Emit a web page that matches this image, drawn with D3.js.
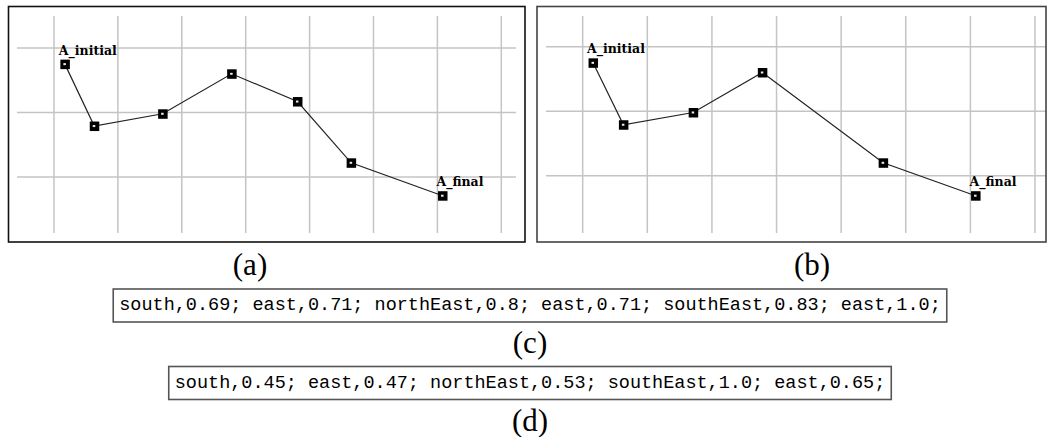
<!DOCTYPE html>
<html lang="en">
<head>
<meta charset="UTF-8">
<title>Trajectories</title>
<script src="https://cdn.jsdelivr.net/npm/d3@7/dist/d3.min.js"></script>
<style>
  body { margin: 0; background: #fff; }
</style>
</head>
<body>
<div id="grafica"></div>
<script>
// data, in grid units (x to the right, y downward from the top grid line)
const gridX = [0, 1, 2, 3, 4, 5, 6, 7]
const gridY = [0, 1, 2]

const trajA_x = [0.17, 0.63, 1.70, 2.78, 3.81, 4.65, 6.08]
const trajA_y = [0.25, 1.21, 1.02, 0.40, 0.83, 1.78, 2.29]
const trajB_x = [0.16, 0.63, 1.71, 2.78, 4.65, 6.08]
const trajB_y = [0.25, 1.21, 1.02, 0.40, 1.80, 2.31]

const endLabels = ['A_initial', 'A_final']
const captions = ['(a)', '(b)', '(c)', '(d)']

const movesC = ['south', 'east', 'northEast', 'east', 'southEast', 'east']
const weightsC = ['0.69', '0.71', '0.8', '0.71', '0.83', '1.0']
const movesD = ['south', 'east', 'northEast', 'southEast', 'east']
const weightsD = ['0.45', '0.47', '0.53', '1.0', '0.65']

const ancho_total = 1047, alto_total = 437

const svg = d3.select('#grafica').append('svg')
    .attr('width', ancho_total)
    .attr('height', alto_total)

// panel frames and grid placement
const panels = [
  {x0: 8.5, x1: 525, y0: 6.5, y1: 242, gx: [54, 501.3], gy: [48, 177], lx: [17, 516],
   xs: trajA_x, ys: trajA_y, border: '#111', cap: 250},
  {x0: 537, x1: 1046, y0: 6.5, y1: 242, gx: [582.7, 1035], gy: [46.7, 175.7], lx: [546, 1046],
   xs: trajB_x, ys: trajB_y, border: '#444', cap: 812}
]

panels.forEach((p, i) => {
  const g = svg.append('g')
  const x = d3.scaleLinear().domain([0, 7]).range(p.gx)
  const y = d3.scaleLinear().domain([0, 2]).range(p.gy)

  g.selectAll('.vg').data(gridX).join('line')
      .attr('x1', d => x(d)).attr('x2', d => x(d))
      .attr('y1', 16).attr('y2', 233)
      .attr('stroke', '#c4c4c4').attr('stroke-width', 1.5)
  g.selectAll('.hg').data(gridY).join('line')
      .attr('x1', p.lx[0]).attr('x2', p.lx[1])
      .attr('y1', d => y(d)).attr('y2', d => y(d))
      .attr('stroke', '#c4c4c4').attr('stroke-width', 1.5)

  g.append('rect')
      .attr('x', p.x0).attr('y', p.y0)
      .attr('width', p.x1 - p.x0).attr('height', p.y1 - p.y0)
      .attr('fill', 'none').attr('stroke', p.border).attr('stroke-width', 1.6)

  const pts = p.xs.map((v, k) => [v, p.ys[k]])
  const linea = d3.line().x(d => x(d[0])).y(d => y(d[1]))
  g.append('path')
      .attr('d', linea(pts))
      .attr('fill', 'none').attr('stroke', '#222').attr('stroke-width', 1.2)

  // black square markers with a tiny white glyph
  g.selectAll('.mk').data(pts).join('rect')
      .attr('x', d => x(d[0]) - 4.5).attr('y', d => y(d[1]) - 4.5)
      .attr('width', 9.5).attr('height', 9.5).attr('fill', '#000')
  g.selectAll('.mk2').data(pts).join('rect')
      .attr('x', d => x(d[0]) - 1.5).attr('y', d => y(d[1]) - 1)
      .attr('width', 2.5).attr('height', 2).attr('fill', '#eee')

  const ends = [pts[0], pts[pts.length - 1]]
  g.selectAll('.lab').data(ends).join('text')
      .attr('x', d => x(d[0]) - 6).attr('y', d => y(d[1]) - 9.5)
      .attr('font-family', 'DejaVu Serif').attr('font-weight', 'bold')
      .attr('font-size', 12.5).attr('fill', '#000')
      .text((d, k) => endLabels[k])

  svg.append('text')
      .attr('x', p.cap).attr('y', 275)
      .attr('text-anchor', 'middle')
      .attr('font-family', 'Liberation Serif').attr('font-size', 31)
      .text(captions[i])
})

// encoded move strings in boxes
const codes = [
  {moves: movesC, w: weightsC, cy: 305.5, cap: captions[2], capY: 353},
  {moves: movesD, w: weightsD, cy: 383, cap: captions[3], capY: 431}
]
codes.forEach(c => {
  const s = c.moves.map((m, k) => m + ',' + c.w[k] + ';').join(' ')
  const t = svg.append('text')
      .attr('x', 530).attr('y', c.cy)
      .attr('text-anchor', 'middle').attr('dominant-baseline', 'central')
      .attr('font-family', 'Liberation Mono').attr('font-size', 18.5)
      .text(s)
  const len = t.node().getComputedTextLength()
  svg.append('rect')
      .attr('x', 530 - len / 2 - 6).attr('y', c.cy - 16.5)
      .attr('width', len + 12).attr('height', 33)
      .attr('fill', 'none').attr('stroke', '#555').attr('stroke-width', 1.6)
  svg.append('text')
      .attr('x', 530).attr('y', c.capY)
      .attr('text-anchor', 'middle')
      .attr('font-family', 'Liberation Serif').attr('font-size', 31)
      .text(c.cap)
})
</script>
</body>
</html>
